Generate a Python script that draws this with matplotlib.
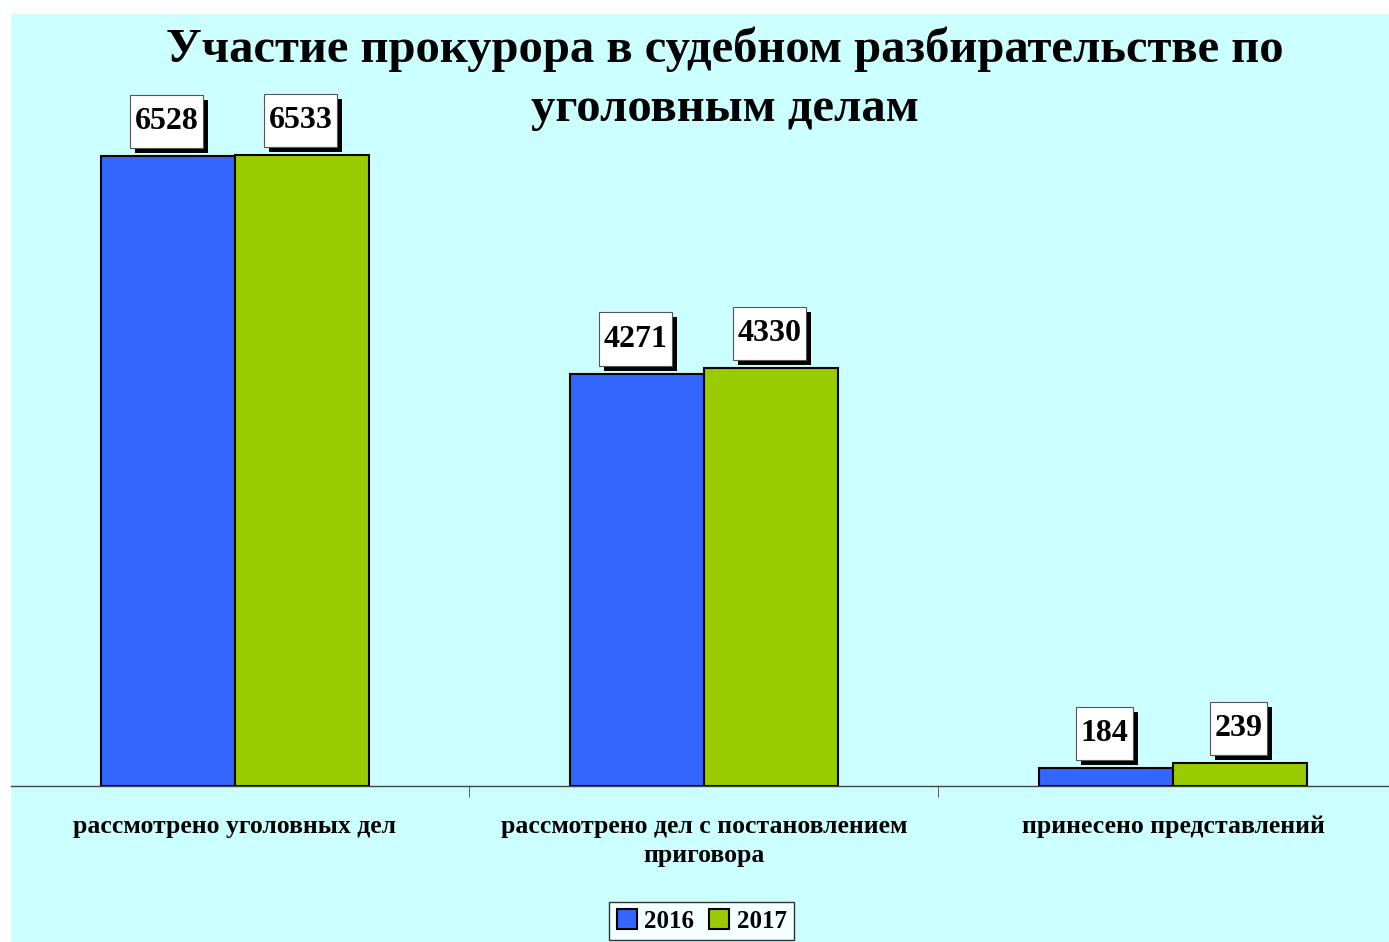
import matplotlib

matplotlib.use("Agg")
import matplotlib.pyplot as plt
import matplotlib.patheffects as pe
from matplotlib.patches import Rectangle
from matplotlib.path import Path
import numpy as np

plt.rcParams["font.family"] = ["Liberation Serif", "DejaVu Serif"]
plt.rcParams["font.weight"] = "bold"

# --- data ------------------------------------------------------------------
categories = [
    "рассмотрено уголовных дел",
    "рассмотрено дел с постановлением\nприговора",
    "принесено представлений",
]
years = ["2016", "2017"]
values_2016 = [6528, 4271, 184]
values_2017 = [6533, 4330, 239]
title_lines = ["Участие прокурора в судебном разбирательстве по", "уголовным делам"]

BLUE, GREEN, BG = "#3366FF", "#99CC00", "#CCFFFF"
W, H = 1389, 942


def label_box(x0, y0, width, height, mutation_size):
    # taller than wide padding, like the excel data labels
    px, py = 0.15 * mutation_size, 0.38 * mutation_size
    x0, y0, x1, y1 = x0 - px, y0 - py, x0 + width + px, y0 + height + py
    return Path([(x0, y0), (x1, y0), (x1, y1), (x0, y1), (x0, y0)], closed=True)


fig = plt.figure(figsize=(W / 100, H / 100), dpi=100, facecolor="white")
fig.patches.append(Rectangle((11 / W, 0), 1 - 11 / W, (H - 14) / H,
                             transform=fig.transFigure, facecolor=BG,
                             edgecolor="none", zorder=-10))

ax = fig.add_axes([11 / W, (H - 786) / H, 1 - 11 / W, 675.6 / H])
ax.set_facecolor("none")
ax.set_xlim(-0.4776, 2.4606)
ax.set_ylim(0, 7000)

x = np.arange(len(categories))
w = 134 / 469
b1 = ax.bar(x - w / 2, values_2016, w, color=BLUE, edgecolor="black", linewidth=1.5, label=years[0])
b2 = ax.bar(x + w / 2, values_2017, w, color=GREEN, edgecolor="black", linewidth=1.5, label=years[1])

for bars, vals in [(b1, values_2016), (b2, values_2017)]:
    for b, v in zip(bars, vals):
        t = ax.annotate(str(v), (b.get_x() + b.get_width() / 2, v), xytext=(-1, 25),
                        textcoords="offset points", ha="center", va="center",
                        fontsize=23, fontweight="bold",
                        bbox=dict(boxstyle=label_box, facecolor="white",
                                  edgecolor="#555555", linewidth=0.8))
        t.get_bbox_patch().set_path_effects([
            pe.SimplePatchShadow(offset=(3.6, -3.6), shadow_rgbFace="black", alpha=1),
            pe.Normal(),
        ])

for s in ["left", "right", "top"]:
    ax.spines[s].set_visible(False)
ax.spines["bottom"].set_color("#444444")
ax.spines["bottom"].set_linewidth(1.0)
ax.set_yticks([])
ax.set_xticks(x, categories, fontsize=18.5, fontweight="bold", linespacing=1.32)
ax.tick_params(axis="x", length=0, pad=21)
ax.set_xticks([0.5, 1.5], minor=True)
ax.tick_params(axis="x", which="minor", length=8, color="#444444")

for line, yb in zip(title_lines, [62, 121]):
    fig.text(725 / W, 1 - yb / H, line, ha="center", va="baseline",
             fontsize=35, fontweight="bold")

leg = fig.legend(loc="center", bbox_to_anchor=(701.5 / W, 1 - 921 / H), ncol=2,
                 frameon=True, fancybox=False, edgecolor="black",
                 prop=dict(size=18, weight="bold"), handlelength=0.8, handleheight=0.8,
                 handletextpad=0.3, columnspacing=0.6, borderpad=0.3)
leg.get_frame().set_linewidth(1.0)

fig.savefig("out.png", dpi=100, facecolor="white")
